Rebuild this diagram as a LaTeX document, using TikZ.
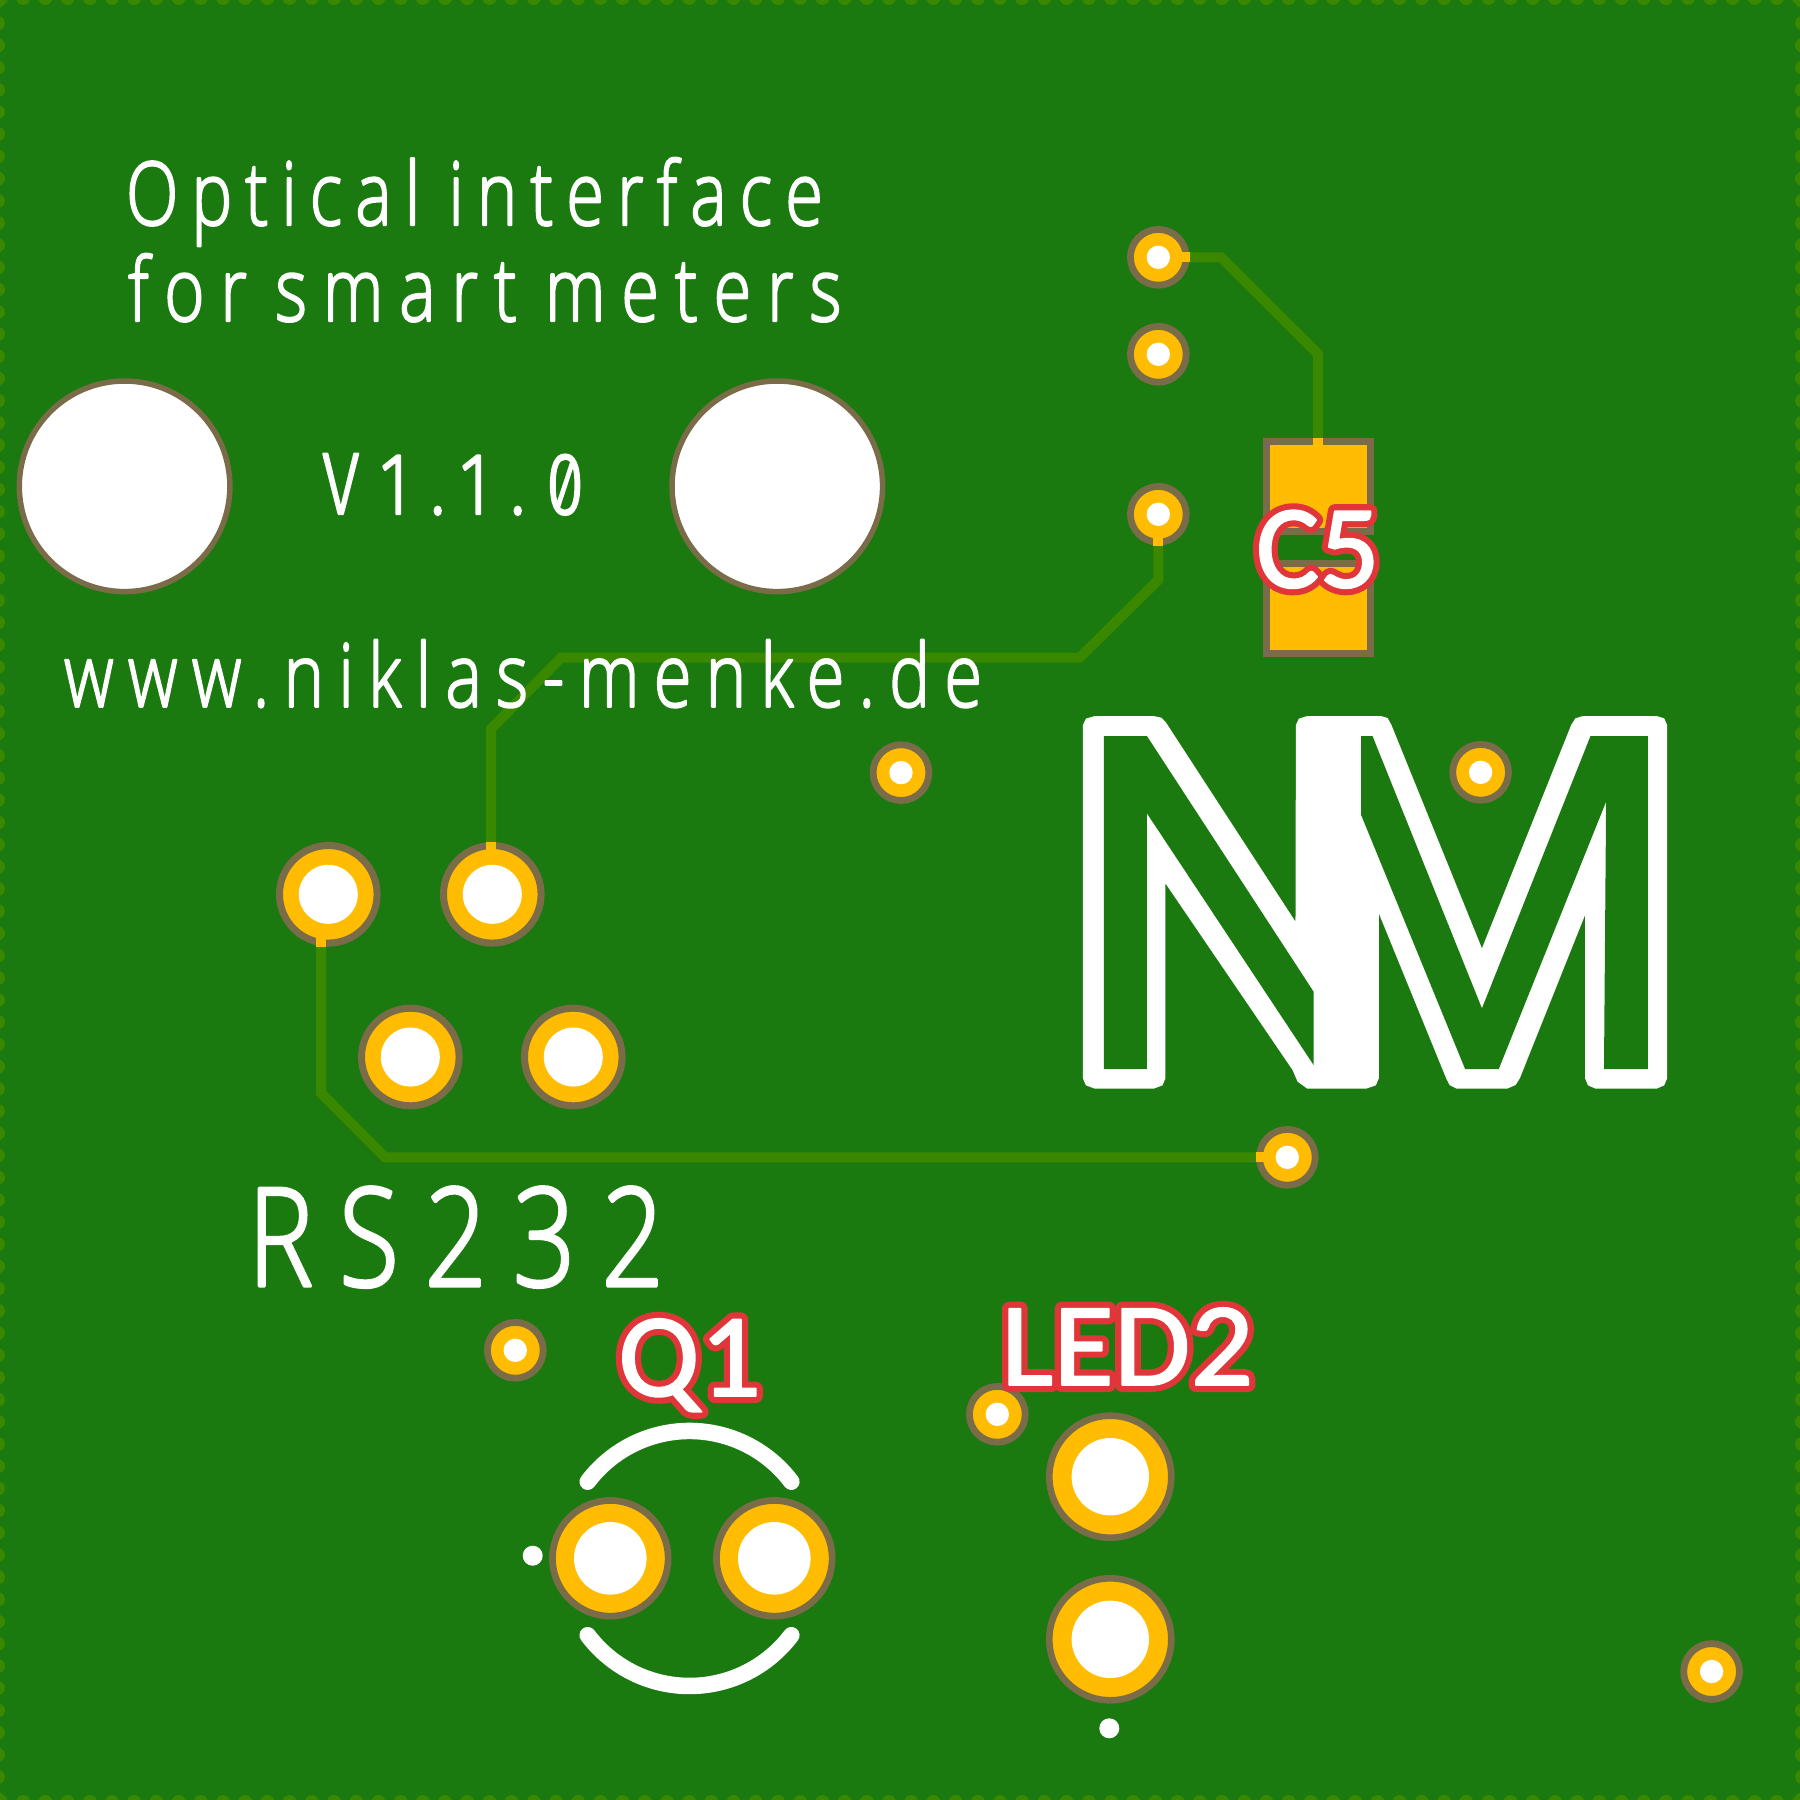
\documentclass[tikz,border=0pt]{standalone}
\usepackage{fontspec}
\usepackage{graphicx}
\setmainfont{Open Sans Light}
\newfontfamily\silkfont[FakeBold=2.5]{Open Sans Light}
\newfontfamily\zerofont[FakeBold=2.5,Numbers=SlashedZero]{Fira Sans Light}
\newfontfamily\refwhite[FakeBold=1.5]{Carlito}
\newfontfamily\refred[FakeBold=11.7]{Carlito}
\definecolor{board}{HTML}{1A7A0F}
\definecolor{trackc}{HTML}{3A8800}
\definecolor{goldc}{HTML}{FFBC00}
\definecolor{brownc}{HTML}{7A6C48}
\definecolor{refc}{HTML}{E0363A}
\pgfdeclarelayer{boardl}\pgfdeclarelayer{trackl}\pgfdeclarelayer{stubl}\pgfdeclarelayer{topl}
\pgfsetlayers{boardl,trackl,main,stubl,topl}
\tikzset{
  padbase/.style={circle,inner sep=0pt,outer sep=0pt,draw=brownc,fill=goldc},
  viapad/.style={padbase,minimum size=55.8pt,line width=6.8pt},
  thtpad/.style={padbase,minimum size=97.6pt,line width=7pt},
  qpad/.style={padbase,minimum size=115.7pt,line width=6.7pt},
  ledpad/.style={padbase,minimum size=122pt,line width=6.6pt},
  mounthole/.style={circle,inner sep=0pt,outer sep=0pt,draw=brownc,fill=white,minimum size=210.6pt,line width=5.5pt},
  smdpad/.style={rectangle,inner sep=0pt,outer sep=0pt,draw=brownc,fill=goldc,line width=7pt,minimum width=104pt,minimum height=90pt},
  drillbase/.style={circle,inner sep=0pt,outer sep=0pt,fill=white},
  viadrill/.style={drillbase,minimum size=23.4pt},
  thtdrill/.style={drillbase,minimum size=59pt},
  qdrill/.style={drillbase,minimum size=72.6pt},
  leddrill/.style={drillbase,minimum size=77.4pt},
  pin1dot/.style={drillbase,minimum size=20pt},
  trackline/.style={draw=trackc,line width=10pt,line cap=butt,line join=miter},
  stubline/.style={draw=goldc,line width=10pt,line cap=butt},
  silkarc/.style={draw=white,line width=16.5pt,line cap=round},
  silktext/.style={text=white,inner sep=0pt,outer sep=0pt,anchor=base west},
}
\newcommand{\refsize}{\fontsize{119}{119}\selectfont}
% font, size, x-scale, target width, number of letter gaps + 1, text
\newcommand{\silkline}[6]{%
  \fontsize{#2}{#2}#1\selectfont
  \spaceskip=36pt
  \setbox0=\hbox{#6}%
  \pgfmathsetmacro{\lsp}{(#4/#3-\wd0)/(#5-1)/#2*100}%
  \scalebox{#3}[1]{\addfontfeatures{LetterSpace=\lsp}#6}}
\begin{document}
\begin{tikzpicture}[x=1pt,y=-1pt]
\useasboundingbox (0,0) rectangle (1800,1800);
\clip (0,0) rectangle (1800,1800);
% board
\begin{pgfonlayer}{boardl}
\fill[board] (0,0) rectangle (1800,1800);
\foreach \k in {0,...,81} {
  \pgfmathsetmacro{\p}{1+22.2*\k}
  \fill[trackc] (\p,-2) circle[radius=7pt];
  \fill[trackc] (\p,1802) circle[radius=7pt];
  \fill[trackc] (-2,\p) circle[radius=7pt];
  \fill[trackc] (1802,\p) circle[radius=7pt];
}
\end{pgfonlayer}
% vias
\node[viapad] (v1) at (1158.3,257.3) {};
\node[viapad] (v2) at (1158.3,354.3) {};
\node[viapad] (v3) at (1158.3,514.3) {};
\node[viapad] (v4) at (901,772.6) {};
\node[viapad] (v5) at (1480.6,772.3) {};
\node[viapad] (v6) at (1287.3,1157.3) {};
\node[viapad] (v7) at (515.3,1350.3) {};
\node[viapad] (v8) at (997.3,1414.3) {};
\node[viapad] (v9) at (1711.6,1671.5) {};
% through-hole pads
\node[thtpad] (p1) at (328.3,894.3) {};
\node[thtpad] (p2) at (492.3,894.3) {};
\node[thtpad] (p3) at (410.3,1057) {};
\node[thtpad] (p4) at (573.3,1057) {};
\node[qpad] (q1) at (610.3,1558.3) {};
\node[qpad] (q2) at (774.3,1558.3) {};
\node[ledpad] (l1) at (1110.3,1476.7) {};
\node[ledpad] (l2) at (1110.3,1639.3) {};
\node[mounthole] (m1) at (124.6,486.3) {};
\node[mounthole] (m2) at (777.3,486.3) {};
% C5
\node[smdpad] (c5a) at (1318.5,486.5) {};
\node[smdpad] (c5b) at (1318.5,608.3) {};
% tracks
\coordinate (t1a) at (1221,257.3);
\coordinate (t1b) at (1318,354);
\coordinate (t1c) at (1318,438);
\coordinate (t2a) at (1158.3,580);
\coordinate (t2b) at (1079.5,657.7);
\coordinate (t2c) at (561,657.7);
\coordinate (t2d) at (491,729);
\coordinate (t2e) at (491,894.3);
\coordinate (t3a) at (321,894.3);
\coordinate (t3b) at (321,1093);
\coordinate (t3c) at (385,1157.3);
\begin{pgfonlayer}{trackl}
\draw[trackline] (v1.center) -- (t1a) -- (t1b) -- (t1c);
\draw[trackline] (v3.center) -- (t2a) -- (t2b) -- (t2c) -- (t2d) -- (t2e);
\draw[trackline] (t3a) -- (t3b) -- (t3c) -- (v6.center);
\end{pgfonlayer}
\begin{pgfonlayer}{stubl}
\draw[stubline] (v1.center) -- ++(32,0);
\draw[stubline] (v3.center) -- ++(0,31.4);
\draw[stubline] (v6.center) -- ++(-31.5,0);
\draw[stubline] (t1c) -- ++(0,8);
\draw[stubline] (t2e) -- ++(0,-52.6);
\draw[stubline] (t3a) -- ++(0,52.4);
\end{pgfonlayer}
\begin{pgfonlayer}{topl}
\foreach \n in {v1,v2,v3,v4,v5,v6,v7,v8,v9} \node[viadrill] (\n h) at (\n.center) {};
\foreach \n in {p1,p2,p3,p4} \node[thtdrill] (\n h) at (\n.center) {};
\foreach \n in {q1,q2} \node[qdrill] (\n h) at (\n.center) {};
\foreach \n in {l1,l2} \node[leddrill] (\n h) at (\n.center) {};
\node[pin1dot] (qdot) at (532.7,1555.7) {};
\node[pin1dot] (ldot) at (1109.3,1728.3) {};
% Q1 outline
\draw[silkarc] (587.7,1481.7) arc[start angle=143,end angle=37,radius=127.5pt];
\draw[silkarc] (587.7,1635.2) arc[start angle=217,end angle=323,radius=127.5pt];
% NM logo
\begin{scope}[shift={(1040pt,-680pt)},x=0.42088pt,y=-0.33333pt]
\fill[white] (102,135)--(109,116)--(130,108)--(270,108)--(288,113)--(298,125)--(607,725)--(608,135)--(615,116)--(635,108)--(810,108)--(826,114)--(835,135)--(1050,805)--(1262,135)--(1272,115)--(1290,108)--(1465,108)--(1483,115)--(1490,135)--(1490,1195)--(1483,1216)--(1465,1226)--(1320,1226)--(1302,1216)--(1295,1195)--(1295,705)--(1140,1195)--(1130,1215)--(1110,1226)--(990,1226)--(973,1215)--(965,1195)--(805,700)--(805,1195)--(798,1216)--(775,1226)--(635,1226)--(612,1205)--(600,1170)--(298,610)--(298,1195)--(291,1216)--(270,1226)--(130,1226)--(109,1216)--(102,1195)--cycle;
\fill[board] (152,168)--(254,168)--(650,935)--(650,1155)--(254,400)--(254,1167)--(152,1167)--cycle;
\fill[board] (763,168)--(790,168)--(1050,985)--(1308,168)--(1444,168)--(1444,1167)--(1340,1167)--(1345,365)--(1090,1167)--(1010,1167)--(763,405)--cycle;
\end{scope}
% silk text
\begin{scope}[line join=round,line cap=round]
\node[silktext] (t1) at (126,225) {\silkline{\silkfont}{88}{0.78}{710}{16}{Optical interface}};
\node[silktext] (t2) at (128,321) {\silkline{\silkfont}{88}{0.78}{745}{14}{for smart meters}};
\node[silktext] (t3) at (322,514) {\silkline{\zerofont}{88}{0.78}{262}{6}{V1.1.0}};
\node[silktext] (t4) at (64,706.7) {\silkline{\silkfont}{88}{0.78}{918}{19}{www.niklas-menke.de}};
\node[silktext] (t5) at (248,1286) {\silkline{\silkfont}{137}{0.8}{416}{5}{RS232}};
% reference labels
\node[silktext,text=refc] (c5r) at (1256,587.5) {\refsize\refred C5};
\node[silktext] (c5w) at (1256,587.5) {\refsize\refwhite C5};
\node[silktext,text=refc] (q1r) at (618,1396) {\refsize\scalebox{1.02}[1]{\refred Q1}};
\node[silktext] (q1w) at (618,1396) {\refsize\scalebox{1.02}[1]{\refwhite Q1}};
\node[silktext,text=refc] (l2r) at (1001,1385) {\refsize\scalebox{1.045}[1]{\refred LED2}};
\node[silktext] (l2w) at (1001,1385) {\refsize\scalebox{1.045}[1]{\refwhite LED2}};
\end{scope}
\end{pgfonlayer}
\end{tikzpicture}
\end{document}
